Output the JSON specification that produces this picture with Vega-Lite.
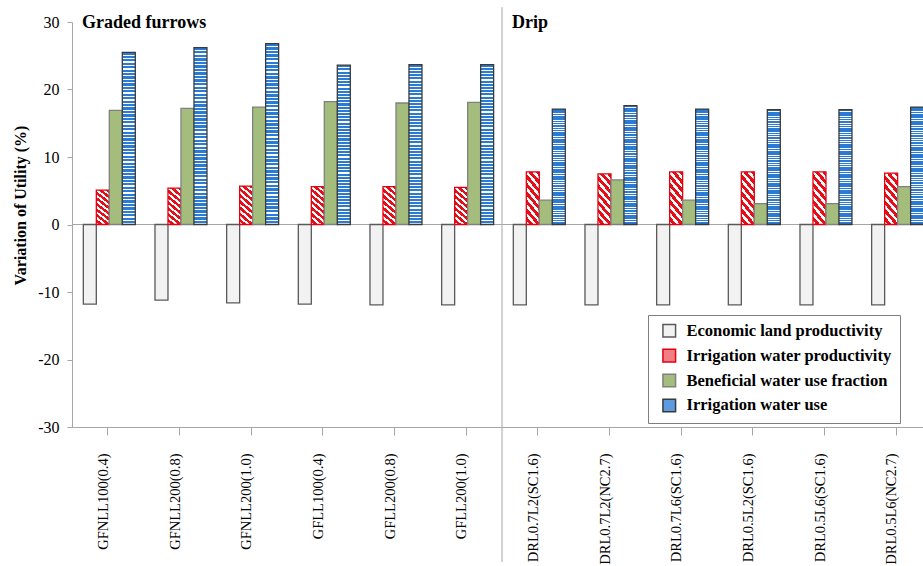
{
  "$schema": "https://vega.github.io/schema/vega-lite/v6.json",
  "width": 860,
  "height": 405,
  "autosize": {"type": "none"},
  "padding": {"left": 72, "top": 22, "right": 0, "bottom": 139},
  "background": "white",
  "config": {
    "view": {"stroke": null},
    "font": "Liberation Serif",
    "axisX": {"domainColor": "#a6a6a6", "tickColor": "#a6a6a6", "tickSize": 8, "labelAngle": -90, "labelFont": "Liberation Serif", "labelFontSize": 14.5, "labelColor": "black", "labelPadding": 18, "labelOffset": -4, "labelOverlap": false, "grid": false},
    "axisY": {"domainColor": "#a6a6a6", "tickColor": "#a6a6a6", "tickSize": 5, "labelFont": "Liberation Serif", "labelFontSize": 16, "labelColor": "black", "labelPadding": 8, "grid": false, "titleFont": "Liberation Serif", "titleFontSize": 16, "titleFontWeight": "bold", "titleColor": "black", "titlePadding": 9}
  },
  "data": {"values": [
    {"g": "GFNLL100(0.4)", "s": "Economic land productivity", "v": -11.8},
    {"g": "GFNLL100(0.4)", "s": "Irrigation water productivity", "v": 5.1},
    {"g": "GFNLL100(0.4)", "s": "Beneficial water use fraction", "v": 16.9},
    {"g": "GFNLL100(0.4)", "s": "Irrigation water use", "v": 25.5},
    {"g": "GFNLL200(0.8)", "s": "Economic land productivity", "v": -11.2},
    {"g": "GFNLL200(0.8)", "s": "Irrigation water productivity", "v": 5.4},
    {"g": "GFNLL200(0.8)", "s": "Beneficial water use fraction", "v": 17.2},
    {"g": "GFNLL200(0.8)", "s": "Irrigation water use", "v": 26.2},
    {"g": "GFNLL200(1.0)", "s": "Economic land productivity", "v": -11.6},
    {"g": "GFNLL200(1.0)", "s": "Irrigation water productivity", "v": 5.7},
    {"g": "GFNLL200(1.0)", "s": "Beneficial water use fraction", "v": 17.4},
    {"g": "GFNLL200(1.0)", "s": "Irrigation water use", "v": 26.8},
    {"g": "GFLL100(0.4)", "s": "Economic land productivity", "v": -11.8},
    {"g": "GFLL100(0.4)", "s": "Irrigation water productivity", "v": 5.6},
    {"g": "GFLL100(0.4)", "s": "Beneficial water use fraction", "v": 18.2},
    {"g": "GFLL100(0.4)", "s": "Irrigation water use", "v": 23.6},
    {"g": "GFLL200(0.8)", "s": "Economic land productivity", "v": -11.9},
    {"g": "GFLL200(0.8)", "s": "Irrigation water productivity", "v": 5.6},
    {"g": "GFLL200(0.8)", "s": "Beneficial water use fraction", "v": 18.0},
    {"g": "GFLL200(0.8)", "s": "Irrigation water use", "v": 23.7},
    {"g": "GFLL200(1.0)", "s": "Economic land productivity", "v": -11.9},
    {"g": "GFLL200(1.0)", "s": "Irrigation water productivity", "v": 5.5},
    {"g": "GFLL200(1.0)", "s": "Beneficial water use fraction", "v": 18.1},
    {"g": "GFLL200(1.0)", "s": "Irrigation water use", "v": 23.7},
    {"g": "DRL0.7L2(SC1.6)", "s": "Economic land productivity", "v": -11.9},
    {"g": "DRL0.7L2(SC1.6)", "s": "Irrigation water productivity", "v": 7.8},
    {"g": "DRL0.7L2(SC1.6)", "s": "Beneficial water use fraction", "v": 3.6},
    {"g": "DRL0.7L2(SC1.6)", "s": "Irrigation water use", "v": 17.1},
    {"g": "DRL0.7L2(NC2.7)", "s": "Economic land productivity", "v": -11.9},
    {"g": "DRL0.7L2(NC2.7)", "s": "Irrigation water productivity", "v": 7.5},
    {"g": "DRL0.7L2(NC2.7)", "s": "Beneficial water use fraction", "v": 6.6},
    {"g": "DRL0.7L2(NC2.7)", "s": "Irrigation water use", "v": 17.6},
    {"g": "DRL0.7L6(SC1.6)", "s": "Economic land productivity", "v": -11.9},
    {"g": "DRL0.7L6(SC1.6)", "s": "Irrigation water productivity", "v": 7.8},
    {"g": "DRL0.7L6(SC1.6)", "s": "Beneficial water use fraction", "v": 3.6},
    {"g": "DRL0.7L6(SC1.6)", "s": "Irrigation water use", "v": 17.1},
    {"g": "DRL0.5L2(SC1.6)", "s": "Economic land productivity", "v": -11.9},
    {"g": "DRL0.5L2(SC1.6)", "s": "Irrigation water productivity", "v": 7.8},
    {"g": "DRL0.5L2(SC1.6)", "s": "Beneficial water use fraction", "v": 3.1},
    {"g": "DRL0.5L2(SC1.6)", "s": "Irrigation water use", "v": 17.0},
    {"g": "DRL0.5L6(SC1.6)", "s": "Economic land productivity", "v": -11.9},
    {"g": "DRL0.5L6(SC1.6)", "s": "Irrigation water productivity", "v": 7.8},
    {"g": "DRL0.5L6(SC1.6)", "s": "Beneficial water use fraction", "v": 3.1},
    {"g": "DRL0.5L6(SC1.6)", "s": "Irrigation water use", "v": 17.0},
    {"g": "DRL0.5L6(NC2.7)", "s": "Economic land productivity", "v": -11.9},
    {"g": "DRL0.5L6(NC2.7)", "s": "Irrigation water productivity", "v": 7.6},
    {"g": "DRL0.5L6(NC2.7)", "s": "Beneficial water use fraction", "v": 5.6},
    {"g": "DRL0.5L6(NC2.7)", "s": "Irrigation water use", "v": 17.4}
  ]},
  "layer": [
    {
      "data": {"values": [{"v": 0}]},
      "mark": {"type": "rule", "color": "#a6a6a6", "strokeWidth": 1},
      "encoding": {"y": {"field": "v", "type": "quantitative"}}
    },
    {
      "mark": {"type": "bar", "strokeWidth": 1.3},
      "encoding": {
        "x": {"field": "g", "type": "nominal", "title": null,
          "scale": {"domain": ["GFNLL100(0.4)", "GFNLL200(0.8)", "GFNLL200(1.0)", "GFLL100(0.4)", "GFLL200(0.8)", "GFLL200(1.0)", "DRL0.7L2(SC1.6)", "DRL0.7L2(NC2.7)", "DRL0.7L6(SC1.6)", "DRL0.5L2(SC1.6)", "DRL0.5L6(SC1.6)", "DRL0.5L6(NC2.7)"], "paddingInner": 0, "paddingOuter": 0}},
        "xOffset": {"field": "s", "type": "nominal",
          "scale": {"domain": ["Economic land productivity", "Irrigation water productivity", "Beneficial water use fraction", "Irrigation water use"], "paddingInner": 0, "paddingOuter": 0.757, "align": 0.575}},
        "y": {"field": "v", "type": "quantitative", "title": "Variation of Utility (%)",
          "scale": {"domain": [-30, 30], "nice": false},
          "axis": {"values": [-30, -20, -10, 0, 10, 20, 30], "labelExpr": "'' + datum.value", "titleY": 183}},
        "fill": {
          "condition": [
            {"test": "datum.s === 'Irrigation water productivity'", "value": {"gradient": "linear", "x1": 1, "y1": 0, "x2": 0.655, "y2": 1.19, "stops": [
                {"offset": 0, "color": "#e3101a"}, {"offset": 0.069, "color": "#e3101a"}, {"offset": 0.069, "color": "#ffffff"}, {"offset": 0.125, "color": "#ffffff"},
                {"offset": 0.125, "color": "#e3101a"}, {"offset": 0.194, "color": "#e3101a"}, {"offset": 0.194, "color": "#ffffff"}, {"offset": 0.25, "color": "#ffffff"},
                {"offset": 0.25, "color": "#e3101a"}, {"offset": 0.319, "color": "#e3101a"}, {"offset": 0.319, "color": "#ffffff"}, {"offset": 0.375, "color": "#ffffff"},
                {"offset": 0.375, "color": "#e3101a"}, {"offset": 0.444, "color": "#e3101a"}, {"offset": 0.444, "color": "#ffffff"}, {"offset": 0.5, "color": "#ffffff"},
                {"offset": 0.5, "color": "#e3101a"}, {"offset": 0.569, "color": "#e3101a"}, {"offset": 0.569, "color": "#ffffff"}, {"offset": 0.625, "color": "#ffffff"},
                {"offset": 0.625, "color": "#e3101a"}, {"offset": 0.694, "color": "#e3101a"}, {"offset": 0.694, "color": "#ffffff"}, {"offset": 0.75, "color": "#ffffff"},
                {"offset": 0.75, "color": "#e3101a"}, {"offset": 0.819, "color": "#e3101a"}, {"offset": 0.819, "color": "#ffffff"}, {"offset": 0.875, "color": "#ffffff"},
                {"offset": 0.875, "color": "#e3101a"}, {"offset": 0.944, "color": "#e3101a"}, {"offset": 0.944, "color": "#ffffff"}, {"offset": 1, "color": "#ffffff"}
              ]}},
            {"test": "datum.s === 'Irrigation water use'", "value": {"gradient": "linear", "x1": 0, "y1": 0, "x2": 0, "y2": 1, "stops": [
                {"offset": 0, "color": "#2b7bd4"}, {"offset": 0.013, "color": "#2b7bd4"}, {"offset": 0.013, "color": "#ffffff"}, {"offset": 0.02, "color": "#ffffff"},
                {"offset": 0.02, "color": "#2b7bd4"}, {"offset": 0.033, "color": "#2b7bd4"}, {"offset": 0.033, "color": "#ffffff"}, {"offset": 0.04, "color": "#ffffff"},
                {"offset": 0.04, "color": "#2b7bd4"}, {"offset": 0.053, "color": "#2b7bd4"}, {"offset": 0.053, "color": "#ffffff"}, {"offset": 0.06, "color": "#ffffff"},
                {"offset": 0.06, "color": "#2b7bd4"}, {"offset": 0.073, "color": "#2b7bd4"}, {"offset": 0.073, "color": "#ffffff"}, {"offset": 0.08, "color": "#ffffff"},
                {"offset": 0.08, "color": "#2b7bd4"}, {"offset": 0.093, "color": "#2b7bd4"}, {"offset": 0.093, "color": "#ffffff"}, {"offset": 0.1, "color": "#ffffff"},
                {"offset": 0.1, "color": "#2b7bd4"}, {"offset": 0.113, "color": "#2b7bd4"}, {"offset": 0.113, "color": "#ffffff"}, {"offset": 0.12, "color": "#ffffff"},
                {"offset": 0.12, "color": "#2b7bd4"}, {"offset": 0.133, "color": "#2b7bd4"}, {"offset": 0.133, "color": "#ffffff"}, {"offset": 0.14, "color": "#ffffff"},
                {"offset": 0.14, "color": "#2b7bd4"}, {"offset": 0.153, "color": "#2b7bd4"}, {"offset": 0.153, "color": "#ffffff"}, {"offset": 0.16, "color": "#ffffff"},
                {"offset": 0.16, "color": "#2b7bd4"}, {"offset": 0.173, "color": "#2b7bd4"}, {"offset": 0.173, "color": "#ffffff"}, {"offset": 0.18, "color": "#ffffff"},
                {"offset": 0.18, "color": "#2b7bd4"}, {"offset": 0.193, "color": "#2b7bd4"}, {"offset": 0.193, "color": "#ffffff"}, {"offset": 0.2, "color": "#ffffff"},
                {"offset": 0.2, "color": "#2b7bd4"}, {"offset": 0.213, "color": "#2b7bd4"}, {"offset": 0.213, "color": "#ffffff"}, {"offset": 0.22, "color": "#ffffff"},
                {"offset": 0.22, "color": "#2b7bd4"}, {"offset": 0.233, "color": "#2b7bd4"}, {"offset": 0.233, "color": "#ffffff"}, {"offset": 0.24, "color": "#ffffff"},
                {"offset": 0.24, "color": "#2b7bd4"}, {"offset": 0.253, "color": "#2b7bd4"}, {"offset": 0.253, "color": "#ffffff"}, {"offset": 0.26, "color": "#ffffff"},
                {"offset": 0.26, "color": "#2b7bd4"}, {"offset": 0.273, "color": "#2b7bd4"}, {"offset": 0.273, "color": "#ffffff"}, {"offset": 0.28, "color": "#ffffff"},
                {"offset": 0.28, "color": "#2b7bd4"}, {"offset": 0.293, "color": "#2b7bd4"}, {"offset": 0.293, "color": "#ffffff"}, {"offset": 0.3, "color": "#ffffff"},
                {"offset": 0.3, "color": "#2b7bd4"}, {"offset": 0.313, "color": "#2b7bd4"}, {"offset": 0.313, "color": "#ffffff"}, {"offset": 0.32, "color": "#ffffff"},
                {"offset": 0.32, "color": "#2b7bd4"}, {"offset": 0.333, "color": "#2b7bd4"}, {"offset": 0.333, "color": "#ffffff"}, {"offset": 0.34, "color": "#ffffff"},
                {"offset": 0.34, "color": "#2b7bd4"}, {"offset": 0.353, "color": "#2b7bd4"}, {"offset": 0.353, "color": "#ffffff"}, {"offset": 0.36, "color": "#ffffff"},
                {"offset": 0.36, "color": "#2b7bd4"}, {"offset": 0.373, "color": "#2b7bd4"}, {"offset": 0.373, "color": "#ffffff"}, {"offset": 0.38, "color": "#ffffff"},
                {"offset": 0.38, "color": "#2b7bd4"}, {"offset": 0.393, "color": "#2b7bd4"}, {"offset": 0.393, "color": "#ffffff"}, {"offset": 0.4, "color": "#ffffff"},
                {"offset": 0.4, "color": "#2b7bd4"}, {"offset": 0.413, "color": "#2b7bd4"}, {"offset": 0.413, "color": "#ffffff"}, {"offset": 0.42, "color": "#ffffff"},
                {"offset": 0.42, "color": "#2b7bd4"}, {"offset": 0.433, "color": "#2b7bd4"}, {"offset": 0.433, "color": "#ffffff"}, {"offset": 0.44, "color": "#ffffff"},
                {"offset": 0.44, "color": "#2b7bd4"}, {"offset": 0.453, "color": "#2b7bd4"}, {"offset": 0.453, "color": "#ffffff"}, {"offset": 0.46, "color": "#ffffff"},
                {"offset": 0.46, "color": "#2b7bd4"}, {"offset": 0.473, "color": "#2b7bd4"}, {"offset": 0.473, "color": "#ffffff"}, {"offset": 0.48, "color": "#ffffff"},
                {"offset": 0.48, "color": "#2b7bd4"}, {"offset": 0.493, "color": "#2b7bd4"}, {"offset": 0.493, "color": "#ffffff"}, {"offset": 0.5, "color": "#ffffff"},
                {"offset": 0.5, "color": "#2b7bd4"}, {"offset": 0.513, "color": "#2b7bd4"}, {"offset": 0.513, "color": "#ffffff"}, {"offset": 0.52, "color": "#ffffff"},
                {"offset": 0.52, "color": "#2b7bd4"}, {"offset": 0.533, "color": "#2b7bd4"}, {"offset": 0.533, "color": "#ffffff"}, {"offset": 0.54, "color": "#ffffff"},
                {"offset": 0.54, "color": "#2b7bd4"}, {"offset": 0.553, "color": "#2b7bd4"}, {"offset": 0.553, "color": "#ffffff"}, {"offset": 0.56, "color": "#ffffff"},
                {"offset": 0.56, "color": "#2b7bd4"}, {"offset": 0.573, "color": "#2b7bd4"}, {"offset": 0.573, "color": "#ffffff"}, {"offset": 0.58, "color": "#ffffff"},
                {"offset": 0.58, "color": "#2b7bd4"}, {"offset": 0.593, "color": "#2b7bd4"}, {"offset": 0.593, "color": "#ffffff"}, {"offset": 0.6, "color": "#ffffff"},
                {"offset": 0.6, "color": "#2b7bd4"}, {"offset": 0.613, "color": "#2b7bd4"}, {"offset": 0.613, "color": "#ffffff"}, {"offset": 0.62, "color": "#ffffff"},
                {"offset": 0.62, "color": "#2b7bd4"}, {"offset": 0.633, "color": "#2b7bd4"}, {"offset": 0.633, "color": "#ffffff"}, {"offset": 0.64, "color": "#ffffff"},
                {"offset": 0.64, "color": "#2b7bd4"}, {"offset": 0.653, "color": "#2b7bd4"}, {"offset": 0.653, "color": "#ffffff"}, {"offset": 0.66, "color": "#ffffff"},
                {"offset": 0.66, "color": "#2b7bd4"}, {"offset": 0.673, "color": "#2b7bd4"}, {"offset": 0.673, "color": "#ffffff"}, {"offset": 0.68, "color": "#ffffff"},
                {"offset": 0.68, "color": "#2b7bd4"}, {"offset": 0.693, "color": "#2b7bd4"}, {"offset": 0.693, "color": "#ffffff"}, {"offset": 0.7, "color": "#ffffff"},
                {"offset": 0.7, "color": "#2b7bd4"}, {"offset": 0.713, "color": "#2b7bd4"}, {"offset": 0.713, "color": "#ffffff"}, {"offset": 0.72, "color": "#ffffff"},
                {"offset": 0.72, "color": "#2b7bd4"}, {"offset": 0.733, "color": "#2b7bd4"}, {"offset": 0.733, "color": "#ffffff"}, {"offset": 0.74, "color": "#ffffff"},
                {"offset": 0.74, "color": "#2b7bd4"}, {"offset": 0.753, "color": "#2b7bd4"}, {"offset": 0.753, "color": "#ffffff"}, {"offset": 0.76, "color": "#ffffff"},
                {"offset": 0.76, "color": "#2b7bd4"}, {"offset": 0.773, "color": "#2b7bd4"}, {"offset": 0.773, "color": "#ffffff"}, {"offset": 0.78, "color": "#ffffff"},
                {"offset": 0.78, "color": "#2b7bd4"}, {"offset": 0.793, "color": "#2b7bd4"}, {"offset": 0.793, "color": "#ffffff"}, {"offset": 0.8, "color": "#ffffff"},
                {"offset": 0.8, "color": "#2b7bd4"}, {"offset": 0.813, "color": "#2b7bd4"}, {"offset": 0.813, "color": "#ffffff"}, {"offset": 0.82, "color": "#ffffff"},
                {"offset": 0.82, "color": "#2b7bd4"}, {"offset": 0.833, "color": "#2b7bd4"}, {"offset": 0.833, "color": "#ffffff"}, {"offset": 0.84, "color": "#ffffff"},
                {"offset": 0.84, "color": "#2b7bd4"}, {"offset": 0.853, "color": "#2b7bd4"}, {"offset": 0.853, "color": "#ffffff"}, {"offset": 0.86, "color": "#ffffff"},
                {"offset": 0.86, "color": "#2b7bd4"}, {"offset": 0.873, "color": "#2b7bd4"}, {"offset": 0.873, "color": "#ffffff"}, {"offset": 0.88, "color": "#ffffff"},
                {"offset": 0.88, "color": "#2b7bd4"}, {"offset": 0.893, "color": "#2b7bd4"}, {"offset": 0.893, "color": "#ffffff"}, {"offset": 0.9, "color": "#ffffff"},
                {"offset": 0.9, "color": "#2b7bd4"}, {"offset": 0.913, "color": "#2b7bd4"}, {"offset": 0.913, "color": "#ffffff"}, {"offset": 0.92, "color": "#ffffff"},
                {"offset": 0.92, "color": "#2b7bd4"}, {"offset": 0.933, "color": "#2b7bd4"}, {"offset": 0.933, "color": "#ffffff"}, {"offset": 0.94, "color": "#ffffff"},
                {"offset": 0.94, "color": "#2b7bd4"}, {"offset": 0.953, "color": "#2b7bd4"}, {"offset": 0.953, "color": "#ffffff"}, {"offset": 0.96, "color": "#ffffff"},
                {"offset": 0.96, "color": "#2b7bd4"}, {"offset": 0.973, "color": "#2b7bd4"}, {"offset": 0.973, "color": "#ffffff"}, {"offset": 0.98, "color": "#ffffff"},
                {"offset": 0.98, "color": "#2b7bd4"}, {"offset": 0.993, "color": "#2b7bd4"}, {"offset": 0.993, "color": "#ffffff"}, {"offset": 1, "color": "#ffffff"}
              ]}}
          ],
          "field": "s", "type": "nominal",
          "scale": {"domain": ["Economic land productivity", "Irrigation water productivity", "Beneficial water use fraction", "Irrigation water use"], "range": ["#f2f2f2", "#ef7f84", "#a5bd7c", "#5d9ae0"]},
          "legend": {"orient": "none", "legendX": 576, "legendY": 293, "title": null, "labelFont": "Liberation Serif", "labelFontSize": 16.5, "labelFontWeight": "bold", "labelColor": "black", "symbolType": "square", "symbolSize": 160, "symbolStrokeWidth": 1.5, "rowPadding": 4.9, "padding": 7.5, "symbolOffset": 5.5, "labelOffset": 9, "strokeColor": "#7f7f7f", "fillColor": "white", "labelLimit": 400}},
        "stroke": {"field": "s", "type": "nominal",
          "scale": {"domain": ["Economic land productivity", "Irrigation water productivity", "Beneficial water use fraction", "Irrigation water use"], "range": ["#595959", "#e3000f", "#808080", "#3a3a3a"]},
          "legend": {"orient": "none", "legendX": 576, "legendY": 293, "title": null, "labelFont": "Liberation Serif", "labelFontSize": 16.5, "labelFontWeight": "bold", "labelColor": "black", "symbolType": "square", "symbolSize": 160, "symbolStrokeWidth": 1.5, "rowPadding": 4.9, "padding": 7.5, "symbolOffset": 5.5, "labelOffset": 9, "strokeColor": "#7f7f7f", "fillColor": "white", "labelLimit": 400}}
      }
    },
    {
      "data": {"values": [{"g": "DRL0.7L2(SC1.6)"}]},
      "mark": {"type": "rule", "color": "#a6a6a6", "strokeWidth": 1},
      "encoding": {
        "x": {"field": "g", "type": "nominal", "bandPosition": 0, "title": null},
        "y": {"datum": 32.2},
        "y2": {"datum": -50}
      }
    },
    {
      "data": {"values": [{"g": "GFNLL100(0.4)", "t": "Graded furrows"}, {"g": "DRL0.7L2(SC1.6)", "t": "Drip"}]},
      "mark": {"type": "text", "align": "left", "baseline": "middle", "dx": 10, "dy": 1, "font": "Liberation Serif", "fontSize": 18, "fontWeight": "bold", "color": "black"},
      "encoding": {
        "x": {"field": "g", "type": "nominal", "bandPosition": 0, "title": null},
        "y": {"datum": 30},
        "text": {"field": "t"}
      }
    }
  ]
}
